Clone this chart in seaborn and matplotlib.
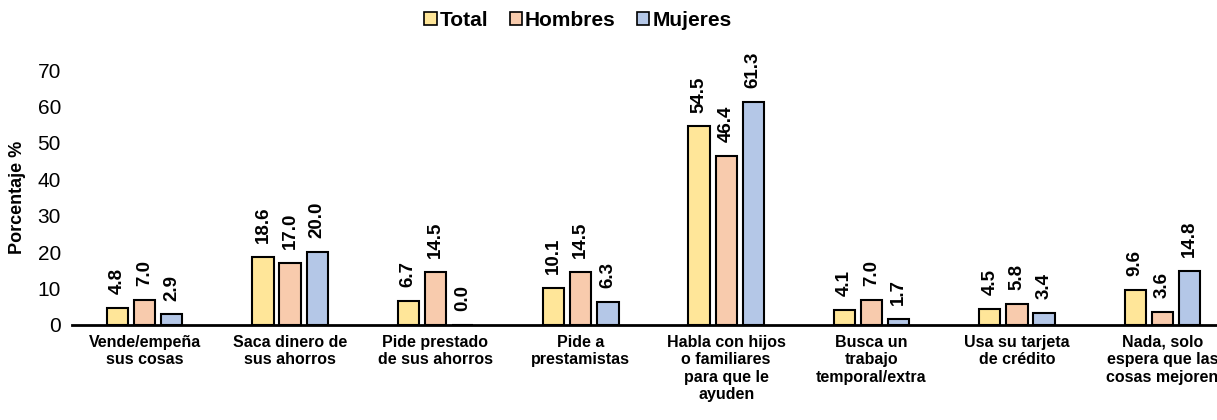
import pandas as pd
import matplotlib
matplotlib.use("Agg")
import matplotlib.pyplot as plt
import seaborn as sns
from matplotlib.patches import Patch

categories = ["Vende/empeña\nsus cosas", "Saca dinero de\nsus ahorros", "Pide prestado\nde sus ahorros",
              "Pide a\nprestamistas", "Habla con hijos\no familiares\npara que le\nayuden",
              "Busca un\ntrabajo\ntemporal/extra", "Usa su tarjeta\nde crédito",
              "Nada, solo\nespera que las\ncosas mejoren"]
total = [4.8, 18.6, 6.7, 10.1, 54.5, 4.1, 4.5, 9.6]
hombres = [7.0, 17.0, 14.5, 14.5, 46.4, 7.0, 5.8, 3.6]
mujeres = [2.9, 20.0, 0.0, 6.3, 61.3, 1.7, 3.4, 14.8]
series = ["Total", "Hombres", "Mujeres"]
colors = ["#FFE699", "#F8CBAD", "#B4C7E7"]

df = pd.DataFrame({
    "cat": categories * 3,
    "grupo": [s for s in series for _ in categories],
    "valor": total + hombres + mujeres,
})

sns.set_theme(style="white")
plt.rcParams["font.family"] = ["Liberation Sans", "DejaVu Sans"]
plt.rcParams["text.color"] = "black"
plt.rcParams["xtick.color"] = "black"
plt.rcParams["ytick.color"] = "black"
plt.rcParams["axes.labelcolor"] = "black"

fig = plt.figure(figsize=(12.17, 4.2), dpi=100)
ax = fig.add_axes([72 / 1217, 95 / 420, 1163 / 1217, 255 / 420])

sns.barplot(data=df, x="cat", y="valor", hue="grupo", palette=colors,
            saturation=1, width=0.56, gap=0.22, edgecolor="black", linewidth=1.5,
            legend=False, ax=ax)

for cont in ax.containers:
    ax.bar_label(cont, fmt="%.1f", rotation=90, padding=10,
                 fontsize=13.5, fontweight="bold", clip_on=False)

ax.set_ylim(0, 70)
ax.set_xlim(-0.5, 7.5)
ax.set_yticks(range(0, 71, 10))
ax.tick_params(axis="y", labelsize=15, length=0, pad=8)
ax.tick_params(axis="x", labelsize=11.5, length=0, pad=7)
for lbl in ax.get_xticklabels():
    lbl.set_fontweight("bold")
ax.set_xlabel("")
ax.set_ylabel("Porcentaje %", fontsize=13, fontweight="bold", labelpad=8)
for s in ["top", "right", "left"]:
    ax.spines[s].set_visible(False)
ax.spines["bottom"].set_linewidth(2)
ax.spines["bottom"].set_color("black")

handles = [Patch(facecolor=c, edgecolor="black", linewidth=1.2) for c in colors]
fig.legend(handles, series, loc="center", bbox_to_anchor=(578 / 1217, 1 - 20 / 420),
           ncol=3, frameon=False, prop={"weight": "bold", "size": 15},
           handlelength=0.6, handleheight=0.6, handletextpad=0.15, columnspacing=1.0)

fig.savefig("out.png", dpi=100)
